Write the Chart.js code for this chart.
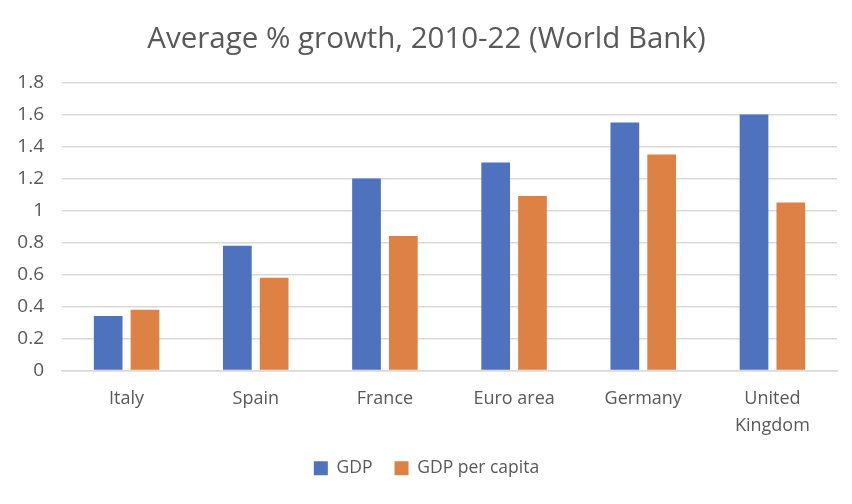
<!DOCTYPE html>
<html>
<head>
<meta charset="utf-8">
<script src="https://cdn.jsdelivr.net/npm/chart.js@4/dist/chart.umd.min.js"></script>
<style>
html,body{margin:0;padding:0;background:#fff;}
#wrap{width:852px;height:504px;}
</style>
</head>
<body>
<div id="wrap"><canvas id="c" width="852" height="504"></canvas></div>
<script>
const categories = ['Italy', 'Spain', 'France', 'Euro area', 'Germany', ['United', 'Kingdom']];
const gdp = [0.34, 0.78, 1.20, 1.30, 1.55, 1.60];
const gdpPerCapita = [0.38, 0.58, 0.84, 1.09, 1.35, 1.05];
const yTicks = [0, 0.2, 0.4, 0.6, 0.8, 1, 1.2, 1.4, 1.6, 1.8];

const FONT = "'Open Sans', 'Liberation Sans', sans-serif";
const TXT = '#595959';

new Chart(document.getElementById('c'), {
  type: 'bar',
  data: {
    labels: categories,
    datasets: [
      { label: 'GDP', data: gdp, backgroundColor: '#4e72bd', categoryPercentage: 0.57, barPercentage: 0.78 },
      { label: 'GDP per capita', data: gdpPerCapita, backgroundColor: '#dd8244', categoryPercentage: 0.57, barPercentage: 0.78 }
    ]
  },
  options: {
    responsive: false,
    animation: false,
    layout: { padding: { left: 16, right: 15, top: 22, bottom: 17 } },
    plugins: {
      title: {
        display: true,
        text: 'Average % growth, 2010-22 (World Bank)',
        color: TXT,
        font: { family: FONT, size: 29.5, weight: 'normal' },
        padding: { top: 0, bottom: 25 }
      },
      legend: {
        position: 'bottom',
        labels: {
          color: TXT,
          font: { family: FONT, size: 17.5 },
          boxWidth: 14,
          boxHeight: 14,
          padding: 22
        }
      },
      tooltip: { enabled: false }
    },
    scales: {
      x: {
        grid: { display: false },
        border: { display: true, color: '#d9d9d9', width: 1.5 },
        ticks: { color: TXT, font: { family: FONT, size: 18, lineHeight: 1.5 }, padding: 7, maxRotation: 0 },
        afterFit: (s) => { s.height = 67; }
      },
      y: {
        min: 0,
        max: 1.8,
        afterBuildTicks: (axis) => { axis.ticks = yTicks.map(v => ({ value: v })); },
        afterFit: (s) => { s.width = 46; },
        grid: { color: '#d9d9d9', lineWidth: 1.5, drawTicks: false },
        border: { display: false },
        ticks: {
          color: TXT,
          font: { family: FONT, size: 19 },
          padding: 18,
          callback: (v) => String(parseFloat(Number(v).toFixed(1)))
        }
      }
    }
  }
});
</script>
</body>
</html>
